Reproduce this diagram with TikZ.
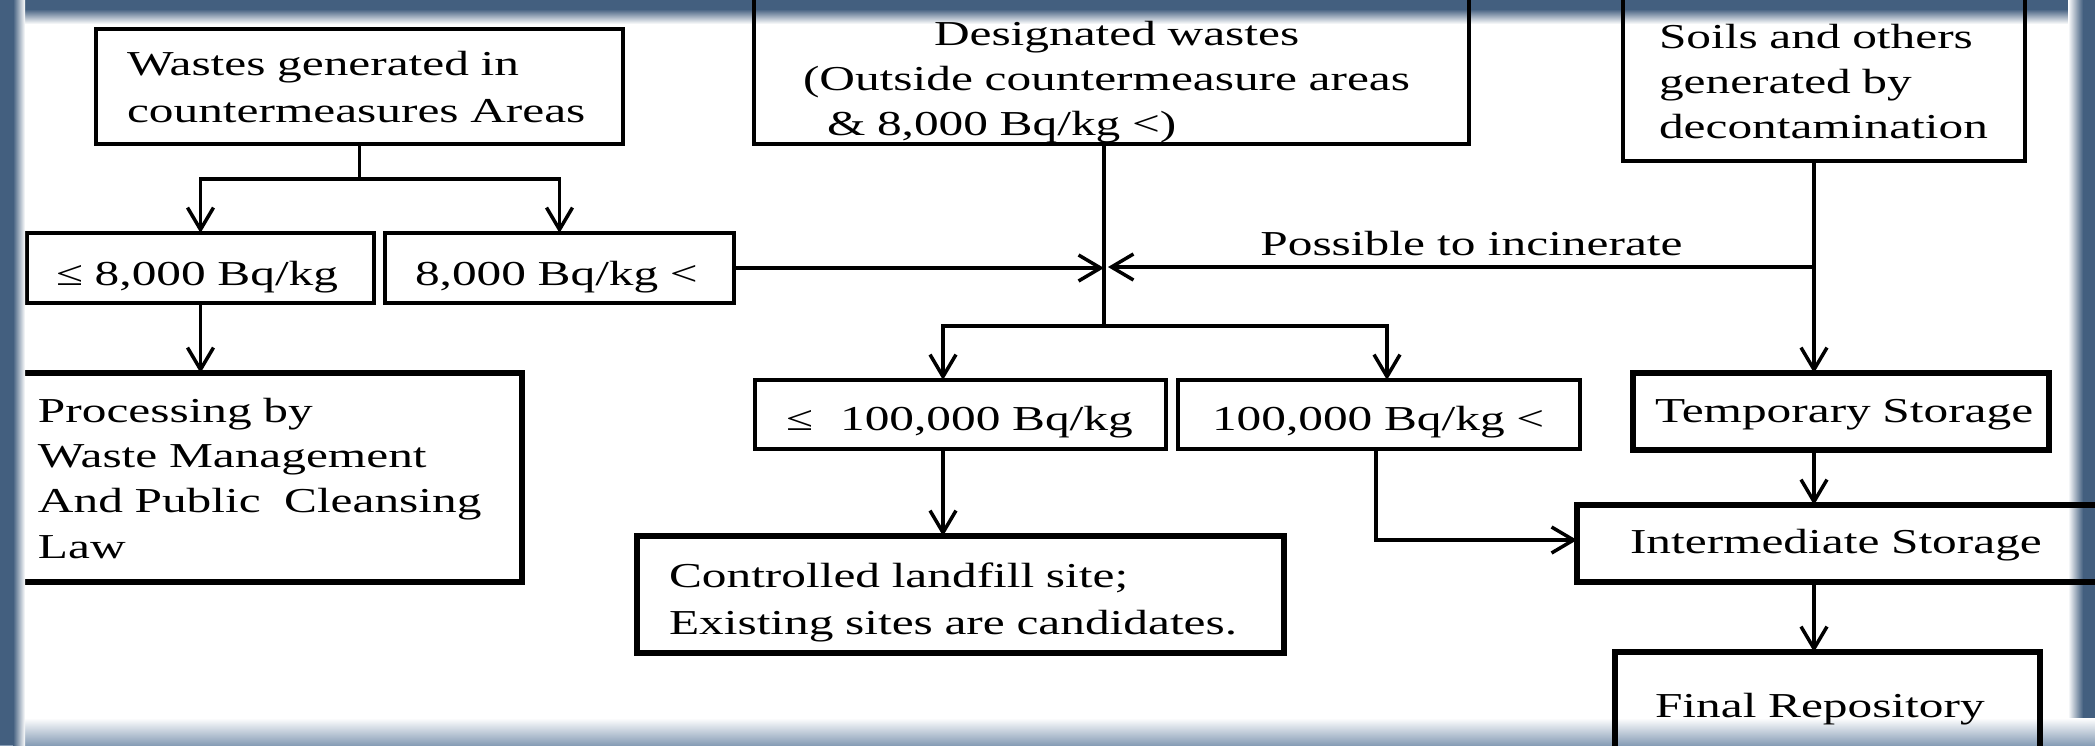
\documentclass[tikz,border=0pt]{standalone}
\usepackage{fontspec}
\setmainfont{Liberation Serif}[FakeStretch=1.41]
\usetikzlibrary{arrows.meta}
\hyphenpenalty=10000
\exhyphenpenalty=10000
\definecolor{fdark}{RGB}{67,95,127}
\definecolor{flight}{RGB}{135,157,182}
\newcommand\fz[1]{\fontsize{17.5pt}{#1}\selectfont}
\begin{document}
\begin{tikzpicture}[x=0.5pt,y=-0.5pt,
  bx/.style={draw, line width=1.75pt, anchor=north west, inner xsep=0pt, inner ysep=0pt, outer sep=0pt, align=left, font={\fz{23pt}}},
  tbox/.style={line width=3pt},
  sz/.style n args={4}{minimum width=#1, text width=#2, execute at begin node={\rule{0pt}{#3}}, execute at end node={\rule[-#4]{0pt}{#4}}},
  ln/.style={line width=1.75pt},
  arr/.style={line width=1.75pt, -{Straight Barb[length=11pt,width=13pt]}},
]
\useasboundingbox (0,0) rectangle (2095,745);
\clip (0,0) rectangle (2095,745);
% frame (under the diagram)
\fill[white] (0,0) rectangle (2095,745);
\fill[fdark] (0,0) rectangle (2095,9);
\shade[top color=fdark, bottom color=white] (0,9) rectangle (2095,24);
\fill[fdark] (2083,0) rectangle (2095,745);
\shade[left color=white, right color=fdark] (2068,0) rectangle (2083,745);
\shade[top color=white, bottom color=flight] (0,718) rectangle (2095,745);

% boxes
\node[bx, sz={263.5pt}{232.5pt}{23pt}{11pt}, font={\fz{23.5pt}}] (b1) at (96,29)
  {Wastes~generated~in\\countermeasures~Areas};
\node[bx, sz={357.5pt}{308.5pt}{37.5pt}{4.5pt}, font={\fz{22.5pt}}] (b2) at (754,-30)
  {\hspace*{65.5pt}Designated~wastes\\(Outside~countermeasure~areas\\\hspace*{12pt}\&~8,000~Bq/kg~<)};
\node[bx, sz={201pt}{165pt}{39pt}{11.5pt}, font={\fz{22.5pt}}] (b3) at (1623,-30)
  {Soils~and~others\\generated~by\\decontamination};
\node[bx, sz={173.5pt}{144.5pt}{26pt}{9pt}] (b4) at (27,233) {≤~8,000~Bq/kg};
\node[bx, sz={174.5pt}{144.5pt}{26pt}{9pt}] (b5) at (385,233) {8,000~Bq/kg~<};
\node[bx, tbox, sz={266pt}{218pt}{24.5pt}{12pt}, font={\fz{22.67pt}}] (b6) at (-10,373)
  {Processing~by\\Waste~Management\\And~Public~~Cleansing\\Law};
\node[bx, sz={205.5pt}{174.5pt}{25pt}{9.5pt}] (b7) at (755,380) {≤\hspace{13.5pt}100,000~Bq/kg};
\node[bx, sz={201pt}{167pt}{25pt}{9.5pt}] (b8) at (1178,380) {100,000~Bq/kg~<};
\node[bx, tbox, sz={208pt}{186pt}{24.5pt}{14pt}] (b9) at (1633,373) {Temporary~Storage};
\node[bx, tbox, sz={323.5pt}{291.5pt}{25.5pt}{9.5pt}, font={\fz{23.5pt}}] (b10) at (637,536)
  {Controlled~landfill~site;\\Existing~sites~are~candidates.};
\node[bx, tbox, sz={266.5pt}{213.5pt}{24pt}{14.5pt}] (b11) at (1577,505) {Intermediate~Storage};
\node[bx, tbox, sz={212.5pt}{172.5pt}{32.5pt}{21.5pt}] (b12) at (1615,652) {Final~Repository};

\node[anchor=base west, inner sep=0pt, font={\fz{23pt}}] (lbl) at (1260,255) {Possible to incinerate};

% junction points
\coordinate (j1) at (359.5,179);
\coordinate (jc) at (1104,267);
\coordinate (j2t) at (1104,144);
\coordinate (j2) at (1104,326);
\coordinate (j2l) at (943,326);
\coordinate (j2r) at (1387,326);
\coordinate (j5) at (1376,540);
\coordinate (j3) at (1814,267);

% connectors
\draw[ln] (b1.south) -- (j1);
\draw[arr] (j1) -| (b4.north);
\draw[arr] (j1) -| (b5.north);
\draw[arr] (b4.south) -- (b4.south |- b6.north);
\draw[arr] (b5.east) -- (b5.east -| jc);
\draw[ln] (j2t) -- (j2);
\draw[arr] (j2) -- (j2l) -- (j2l |- b7.north);
\draw[arr] (j2) -- (j2r) -- (j2r |- b8.north);
\draw[arr] (j2l |- b7.south) -- (j2l |- b10.north);
\draw[arr] (j5 |- b8.south) -- (j5) -- (j5 -| b11.west);
\draw[arr] (j3 |- b3.south) -- (j3 |- b9.north);
\draw[arr, shorten >=2pt] (j3) -- (jc);
\draw[arr] (j3 |- b9.south) -- (j3 |- b11.north);
\draw[arr] (j3 |- b11.south) -- (j3 |- b12.north);

% left frame band (over the diagram)
\fill[fdark] (0,0) rectangle (13,745);
\shade[left color=fdark, right color=white] (13,0) rectangle (25,745);
\end{tikzpicture}
\end{document}
